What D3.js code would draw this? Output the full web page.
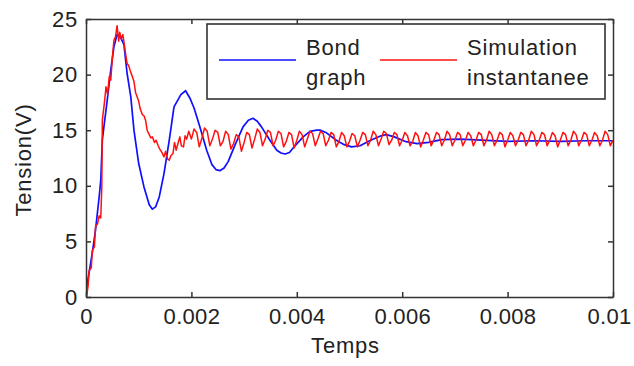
<!DOCTYPE html>
<html><head><meta charset="utf-8">
<script src="https://cdn.jsdelivr.net/npm/d3@7"></script>
<style>body{margin:0;background:#fff}svg{display:block}</style>
</head><body><svg id="c" width="634" height="366"></svg>
<script>
const xTicks=[0,0.002,0.004,0.006,0.008,0.01];
const xTickLabels=["0","0.002","0.004","0.006","0.008","0.01"];
const yTicks=[0,5,10,15,20,25];
const yTickLabels=["0","5","10","15","20","25"];
const xTitle="Temps";
const yTitle="Tension(V)";
const legendLines=[["Bond","graph"],["Simulation","instantanee"]];

const bondT=[0,0.00002,0.00007,0.00012,0.00018,0.00025,0.00028,0.00031,0.00034,0.0004,0.00047,0.00053,0.00059,0.00066,0.00072,0.00078,0.00085,0.00091,0.001,0.0011,0.0012,0.00126,0.00132,0.00139,0.00148,0.00158,0.00167,0.0018,0.00189,0.00197,0.00205,0.00216,0.00229,0.00239,0.00247,0.00254,0.00262,0.0027,0.00283,0.00298,0.00308,0.00317,0.00325,0.00333,0.00349,0.00362,0.0037,0.00378,0.00386,0.00393,0.00412,0.00425,0.00438,0.00445,0.00455,0.00475,0.0049,0.00504,0.0052,0.0054,0.0056,0.0057,0.00585,0.00605,0.00628,0.0065,0.00675,0.0071,0.0075,0.008,0.0085,0.009,0.0095,0.01];
const bondV=[0,1.1,2.5,4.0,6.0,9.0,10.5,14.1,15.3,17.6,20.4,22.5,23.6,23.3,22.7,20.1,18.0,15.0,12.0,9.9,8.3,7.9,8.1,9.0,11.1,14.1,17.1,18.2,18.55,17.9,17.0,15.3,13.2,11.9,11.45,11.36,11.6,12.2,13.7,15.3,15.9,16.07,15.8,15.3,14.1,13.2,12.95,12.86,13.0,13.4,14.4,14.9,15.0,15.0,14.8,14.1,13.7,13.5,13.6,14.1,14.5,14.6,14.4,14.0,13.8,13.9,14.15,14.2,14.1,14.0,14.05,14.0,14.05,14.05];

const simT=[0,0.00001,0.00004,0.00006,0.0001,0.00012,0.00016,0.00018,0.00022,0.00025,0.00028,0.0003,0.00031,0.00035,0.00038,0.00041,0.00044,0.00047,0.0005,0.00053,0.00056,0.00059,0.00062,0.00064,0.00067,0.0007,0.00073,0.00075,0.00078,0.00081,0.00085,0.00088,0.00091,0.00094,0.00097,0.001,0.00103,0.00107,0.0011,0.00113,0.00116,0.0012,0.00123,0.00126,0.0013,0.00133,0.00137,0.0014,0.00144,0.00148,0.00151,0.00155,0.00158,0.00161,0.00165,0.00168,0.00171,0.00175,0.00178,0.00181,0.00185,0.00188,0.00191,0.00195,
0.00200,0.00205,0.00210,0.00215,
0.00220,0.00225,0.00230,0.00235,
0.00240,0.00245,0.00250,0.00255,
0.00260,0.00265,0.00270,0.00275,
0.00280,0.00285,0.00290,0.00295,
0.00300,0.00305,0.00310,0.00315,
0.00320,0.00325,0.00330,0.00335,
0.00340,0.00345,0.00350,0.00355,
0.00360,0.00365,0.00370,0.00375,
0.00380,0.00385,0.00390,0.00395,
0.00400,0.00405,0.00410,0.00415,
0.00420,0.00425,0.00430,0.00435,
0.00440,0.00445,0.00450,0.00455,
0.00460,0.00465,0.00470,0.00475,
0.00480,0.00485,0.00490,0.00495,
0.00500,0.00505,0.00510,0.00515,
0.00520,0.00525,0.00530,0.00535,
0.00540,0.00545,0.00550,0.00555,
0.00560,0.00565,0.00570,0.00575,
0.00580,0.00585,0.00590,0.00595,
0.00600,0.00605,0.00610,0.00615,
0.00620,0.00625,0.00630,0.00635,
0.00640,0.00645,0.00650,0.00655,
0.00660,0.00665,0.00670,0.00675,
0.00680,0.00685,0.00690,0.00695,
0.00700,0.00705,0.00710,0.00715,
0.00720,0.00725,0.00730,0.00735,
0.00740,0.00745,0.00750,0.00755,
0.00760,0.00765,0.00770,0.00775,
0.00780,0.00785,0.00790,0.00795,
0.00800,0.00805,0.00810,0.00815,
0.00820,0.00825,0.00830,0.00835,
0.00840,0.00845,0.00850,0.00855,
0.00860,0.00865,0.00870,0.00875,
0.00880,0.00885,0.00890,0.00895,
0.00900,0.00905,0.00910,0.00915,
0.00920,0.00925,0.00930,0.00935,
0.00940,0.00945,0.00950,0.00955,
0.00960,0.00965,0.00970,0.00975,
0.00980,0.00985,0.00990,0.00995,
0.01000];
const simV=[0,0,1.0,2.4,2.6,4.2,4.5,6.3,6.6,7.3,7.1,9.9,15.9,17.5,18.9,18.2,19.8,19.5,21.5,23.1,23.4,24.4,23.0,23.8,23.2,23.6,22.6,21.9,21.0,20.8,20.2,19.8,19.4,18.4,18.0,17.6,16.9,16.4,16.3,15.9,15.0,14.6,14.3,14.4,13.9,14.1,13.6,13.3,13.0,12.6,13.1,12.4,12.3,12.7,12.9,13.9,13.2,13.9,14.4,13.6,13.5,14.5,14.2,14.9,
14.2,15.1,14.8,13.5,
14.3,15.2,14.9,13.6,
14.2,15.0,14.8,13.6,
14.0,14.9,14.6,13.3,
13.8,14.6,14.4,13.1,
13.9,14.8,14.6,13.4,
14.2,15.1,14.8,13.6,
14.2,15.0,14.8,13.6,
14.1,14.9,14.7,13.5,
14.0,14.8,14.6,13.4,
14.1,14.9,14.6,13.5,
14.2,14.9,14.7,13.6,
14.2,14.9,14.7,13.6,
14.1,14.8,14.6,13.5,
14.0,14.8,14.5,13.5,
14.0,14.7,14.5,13.5,
14.1,14.8,14.6,13.6,
14.1,14.9,14.6,13.6,
14.2,14.9,14.7,13.7,
14.1,14.8,14.6,13.6,
14.1,14.8,14.5,13.6,
14.0,14.8,14.5,13.5,
14.1,14.8,14.6,13.6,
14.1,14.8,14.6,13.6,
14.1,14.9,14.6,13.6,
14.1,14.8,14.6,13.6,
14.1,14.8,14.5,13.6,
14.1,14.8,14.6,13.6,
14.1,14.9,14.6,13.6,
14.1,14.8,14.6,13.5,
14.1,14.8,14.5,13.6,
14.1,14.8,14.6,13.6,
14.1,14.9,14.6,13.6,
14.1,14.8,14.6,13.6,
14.1,14.8,14.5,13.5,
14.1,14.8,14.6,13.6,
14.1,14.9,14.6,13.6,
14.1,14.8,14.6,13.6,
14.1,14.8,14.5,13.6,
14.1,14.9,14.6,13.6,
14.1];

const W=634,H=366;
const m={left:86,right:21,top:19,bottom:69};
const pw=W-m.left-m.right, ph=H-m.top-m.bottom;
const FONT='"Liberation Sans", Arial, Helvetica, sans-serif';
const FS=22, LS="0.8px";
const TXT="#222", AX="#333";

const svg=d3.select("#c");
svg.append("rect").attr("width",W).attr("height",H).attr("fill","#fff");
const g=svg.append("g").attr("transform",`translate(${m.left},${m.top})`);

const x=d3.scaleLinear().domain([0,0.01]).range([0,pw]);
const y=d3.scaleLinear().domain([0,25]).range([ph,0]);

svg.append("defs").append("clipPath").attr("id","clip")
  .append("rect").attr("width",pw).attr("height",ph);

const line=d3.line().x(d=>x(d[0])).y(d=>y(d[1]));
const bond=bondT.map((t,i)=>[t,bondV[i]]);
const sim=simT.map((t,i)=>[t,simV[i]]);

const plot=g.append("g").attr("clip-path","url(#clip)");
plot.append("path").datum(bond).attr("d",line).attr("fill","none")
  .attr("stroke","#1010ff").attr("stroke-width",1.7).attr("stroke-linejoin","round");
plot.append("path").datum(sim).attr("d",line).attr("fill","none")
  .attr("stroke","#ff1010").attr("stroke-width",1.5).attr("stroke-linejoin","round");

function txtStyle(sel){
  sel.attr("fill",TXT).style("font-family",FONT).style("font-size",FS+"px").style("letter-spacing",LS);
}
function styleAxis(sel){
  sel.selectAll(".domain").attr("stroke",AX).attr("stroke-width",1.5);
  sel.selectAll(".tick line").attr("stroke",AX).attr("stroke-width",1.5);
  txtStyle(sel.selectAll("text"));
}
const xb=g.append("g").attr("transform",`translate(0,${ph})`)
  .call(d3.axisBottom(x).tickValues(xTicks).tickFormat((d,i)=>xTickLabels[i]).tickSizeInner(-5).tickSizeOuter(0).tickPadding(11));
styleAxis(xb);
xb.selectAll(".tick text").style("letter-spacing","0.3px")
  .attr("x",(d,i)=>i===xTicks.length-1?-4:0);
const xt=g.append("g")
  .call(d3.axisTop(x).tickValues(xTicks).tickFormat("").tickSizeInner(-5).tickSizeOuter(0));
styleAxis(xt);
const yl=g.append("g")
  .call(d3.axisLeft(y).tickValues(yTicks).tickFormat((d,i)=>yTickLabels[i]).tickSizeInner(-5).tickSizeOuter(0).tickPadding(8));
styleAxis(yl);
const yr=g.append("g").attr("transform",`translate(${pw},0)`)
  .call(d3.axisRight(y).tickValues(yTicks).tickFormat("").tickSizeInner(-5).tickSizeOuter(0));
styleAxis(yr);

svg.append("text").attr("x",m.left+pw/2-4).attr("y",353).attr("text-anchor","middle")
  .call(txtStyle).text(xTitle);
svg.append("text").attr("transform",`translate(31,${m.top+ph/2+2}) rotate(-90)`).attr("text-anchor","middle")
  .call(txtStyle).text(yTitle);

// legend
const lg=svg.append("g");
lg.append("rect").attr("x",207).attr("y",24).attr("width",398).attr("height",75)
  .attr("fill","#fff").attr("stroke",AX).attr("stroke-width",1.6);
const colors=["#1010ff","#ff1010"];
const lx=[219,380];
legendLines.forEach((lab,i)=>{
  lg.append("line").attr("x1",lx[i]).attr("x2",lx[i]+77).attr("y1",60).attr("y2",60)
    .attr("stroke",colors[i]).attr("stroke-width",1.7);
  lab.forEach((s,j)=>{
    lg.append("text").attr("x",lx[i]+87).attr("y",55+j*30).call(txtStyle).text(s);
  });
});
</script></body></html>
